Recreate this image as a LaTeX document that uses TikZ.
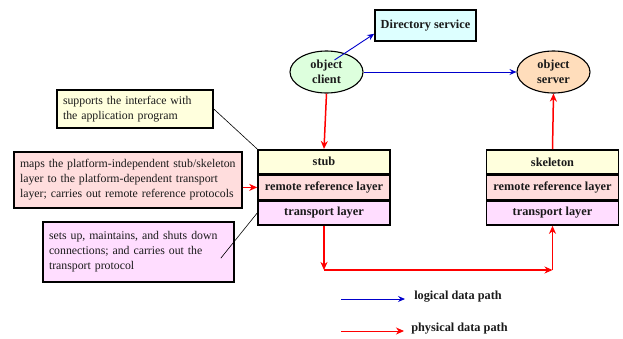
\documentclass[tikz,border=0pt]{standalone}
\usepackage{fontspec}
\setmainfont{Liberation Serif}
\usetikzlibrary{arrows.meta,positioning,calc,shapes.geometric}
\definecolor{cDir}{HTML}{DDFFFF}
\definecolor{cCli}{HTML}{DDFFDD}
\definecolor{cSrv}{HTML}{FFDDBB}
\definecolor{cTop}{HTML}{FFFFDD}
\definecolor{cRem}{HTML}{FFDDDD}
\definecolor{cTrn}{HTML}{FFDDFF}
\definecolor{cLog}{HTML}{0000CC}
\definecolor{cPhy}{HTML}{FF0000}
\definecolor{cInk}{HTML}{1A1A1A}
\tikzset{
  every picture/.style={line width=0.5pt},
  lbl/.style={font=\fontsize{12.3}{14}\selectfont\bfseries, text=cInk},
  row/.style={draw=black, line width=1.6pt, minimum width=132pt, minimum height=24pt,
              inner sep=0pt, anchor=north, lbl},
  obj/.style={ellipse, draw=black, line width=1.1pt, minimum width=73pt, minimum height=42pt,
              inner sep=0pt, align=center, lbl, font=\fontsize{12.3}{15}\selectfont\bfseries},
  note/.style={draw=black, line width=1.6pt, align=left, inner xsep=6pt, inner ysep=0pt,
               font=\fontsize{11.8}{15}\selectfont, text=cInk},
  lflow/.style={-{Stealth[length=7pt,width=6pt,inset=2.5pt]}, draw=cLog, line width=0.9pt},
  pflow/.style={-{Stealth[length=8pt,width=7pt,inset=2.5pt]}, draw=cPhy, line width=1.5pt},
}
\begin{document}
\begin{tikzpicture}[x=1pt,y=-1pt]
\useasboundingbox (0,0) rectangle (623,338);

% ------------------------------------------------------------ objects
\node[draw=black, line width=1.6pt, fill=cDir, minimum width=101pt, minimum height=31pt,
      inner sep=0pt, lbl] (dir) at (425.5,25.5) {Directory service};
\node[obj, fill=cCli] (client) at (326.5,72) {object\\client};
\node[obj, fill=cSrv] (server) at (553.5,72) {object\\server};

% ------------------------------------------------------------ layer stacks
\node[row, fill=cTop] (stub)   at (324,149) {stub};
\node[row, fill=cRem] (stubrr) at (stub.south) {remote reference layer};
\node[row, fill=cTrn] (stubtl) at (stubrr.south) {transport layer};

\node[row, fill=cTop] (skel)   at (552.5,149) {\raisebox{-2pt}{skeleton}};
\node[row, fill=cRem] (skelrr) at (skel.south) {remote reference layer};
\node[row, fill=cTrn] (skeltl) at (skelrr.south) {transport layer};

% ------------------------------------------------------------ what each layer does
\node[note, fill=cTop, minimum width=156pt, minimum height=38pt, text width=144pt]
      (sup) at (135,109) {supports the interface with\\ the application program};
\node[note, fill=cRem, minimum width=228pt, minimum height=56pt, text width=216pt]
      (maps) at (128,180) {maps the platform-independent stub/skeleton\\ layer to the
      platform-dependent transport\\ layer; carries out remote reference protocols};
\node[note, fill=cTrn, minimum width=191pt, minimum height=60pt, text width=179pt]
      (sets) at (138.5,252) {sets up, maintains, and shuts down\\ connections; and carries
      out the\\ transport protocol};

\draw[black, line width=0.6pt] (sup.east) -- (stub.north west);
\draw[pflow] (maps.east |- stubrr) -- (stubrr.west);
\draw[black, line width=0.6pt] ($(sets.north east)+(-14,37)$) -- (stubtl.west);

% ------------------------------------------------------------ logical path
\draw[lflow] ($(client.center)+(8,-12)$) -- ($(dir.south west)+(0,-8)$);
\draw[lflow] (client.east) -- (server.west);

% ------------------------------------------------------------ physical path
\coordinate (down) at (stubtl.south |- 0,270);
\coordinate (over) at (skeltl.south |- 0,270);
\draw[pflow] (client.south) -- (stub.north);
\draw[pflow] (stubtl.south) -- (down);
\draw[pflow] (down) -- (over);
\draw[pflow] (over) -- (skeltl.south);
\draw[pflow] (skel.north) -- (server.south);

% ------------------------------------------------------------ legend
\coordinate (lgA) at (341,299);
\coordinate (lgB) at (405,299);
\coordinate (lgC) at (341,331);
\coordinate (lgD) at (404,331);
\draw[lflow] (lgA) -- (lgB);
\draw[pflow, line width=1pt] (lgC) -- (lgD);
\node[lbl, anchor=west, inner sep=0pt] (lglog) at (414,297) {logical data path};
\node[lbl, anchor=west, inner sep=0pt] (lgphy) at (411,329) {physical data path};

\end{tikzpicture}
\end{document}
